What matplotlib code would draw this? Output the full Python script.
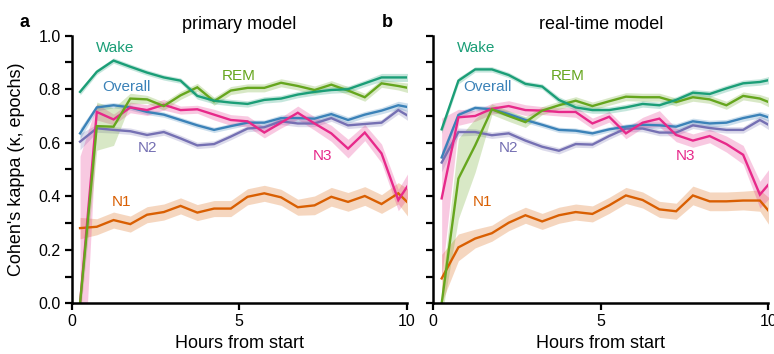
import matplotlib
matplotlib.use("Agg")
import matplotlib.pyplot as plt
from matplotlib.ticker import MultipleLocator, FormatStrFormatter

plt.rcParams['font.family'] = ['Liberation Sans', 'DejaVu Sans']

# Time bins (hours from start, bin centres)
hours = [0.25, 0.75, 1.25, 1.75, 2.25, 2.75, 3.25, 3.75, 4.25, 4.75, 5.25,
         5.75, 6.25, 6.75, 7.25, 7.75, 8.25, 8.75, 9.25, 9.75, 10.25]

stages = ["Wake", "Overall", "N2", "N3", "REM", "N1"]

# Primary model: mean kappa per bin
wake_a = [0.79, 0.865, 0.907, 0.884, 0.862, 0.844, 0.832, 0.775, 0.757, 0.75, 0.745,
          0.76, 0.765, 0.78, 0.79, 0.797, 0.80, 0.822, 0.844, 0.844, 0.844]
overall_a = [0.635, 0.732, 0.74, 0.732, 0.715, 0.705, 0.685, 0.665, 0.648, 0.662, 0.675,
             0.675, 0.692, 0.692, 0.69, 0.707, 0.685, 0.705, 0.72, 0.74, 0.728]
n2_a = [0.604, 0.654, 0.648, 0.643, 0.629, 0.64, 0.616, 0.59, 0.595, 0.623, 0.653,
        0.658, 0.68, 0.672, 0.672, 0.692, 0.665, 0.67, 0.675, 0.722, 0.685]
n3_a = [0.0, 0.715, 0.687, 0.732, 0.722, 0.742, 0.722, 0.725, 0.705, 0.685, 0.68,
        0.638, 0.675, 0.712, 0.672, 0.635, 0.578, 0.638, 0.56, 0.386, 0.48]
rem_a = [0.0, 0.662, 0.66, 0.765, 0.762, 0.737, 0.777, 0.807, 0.755, 0.795, 0.805,
         0.805, 0.824, 0.812, 0.797, 0.817, 0.795, 0.77, 0.822, 0.812, 0.80]
n1_a = [0.281, 0.286, 0.311, 0.296, 0.331, 0.341, 0.364, 0.339, 0.354, 0.354, 0.398,
        0.411, 0.396, 0.359, 0.366, 0.398, 0.379, 0.401, 0.371, 0.411, 0.35]

# Primary model: confidence half-widths
wake_a_ci = [0.012, 0.01, 0.01, 0.01, 0.01, 0.01, 0.01, 0.012, 0.012, 0.012, 0.012,
             0.012, 0.012, 0.012, 0.012, 0.012, 0.012, 0.012, 0.015, 0.015, 0.015]
overall_a_ci = [0.02, 0.012, 0.01, 0.01, 0.01, 0.01, 0.01, 0.01, 0.01, 0.01, 0.01,
                0.01, 0.012, 0.012, 0.012, 0.012, 0.012, 0.012, 0.012, 0.015, 0.015]
n2_a_ci = [0.03, 0.015, 0.012, 0.012, 0.012, 0.012, 0.012, 0.012, 0.012, 0.012, 0.012,
           0.012, 0.012, 0.012, 0.012, 0.012, 0.012, 0.012, 0.012, 0.015, 0.02]
n3_a_ci = [0.55, 0.03, 0.02, 0.02, 0.02, 0.02, 0.015, 0.015, 0.02, 0.02, 0.02,
           0.02, 0.02, 0.025, 0.025, 0.03, 0.035, 0.03, 0.035, 0.04, 0.05]
rem_a_ci = [0.05, 0.09, 0.07, 0.02, 0.015, 0.015, 0.015, 0.015, 0.015, 0.015, 0.015,
            0.015, 0.015, 0.015, 0.015, 0.015, 0.015, 0.015, 0.015, 0.015, 0.02]
n1_a_ci = [0.04, 0.03, 0.03, 0.03, 0.03, 0.03, 0.03, 0.03, 0.03, 0.03, 0.03,
           0.03, 0.03, 0.03, 0.035, 0.035, 0.035, 0.035, 0.035, 0.04, 0.06]

# Real-time model: mean kappa per bin
wake_b = [0.65, 0.832, 0.874, 0.874, 0.853, 0.82, 0.81, 0.76, 0.732, 0.722, 0.722,
          0.732, 0.745, 0.74, 0.76, 0.787, 0.782, 0.803, 0.822, 0.827, 0.84]
overall_b = [0.545, 0.704, 0.73, 0.725, 0.707, 0.685, 0.667, 0.648, 0.645, 0.635, 0.65,
             0.66, 0.667, 0.665, 0.66, 0.68, 0.672, 0.675, 0.692, 0.705, 0.685]
n2_b = [0.526, 0.64, 0.64, 0.628, 0.635, 0.608, 0.585, 0.57, 0.595, 0.593, 0.625,
        0.653, 0.653, 0.638, 0.638, 0.665, 0.655, 0.648, 0.648, 0.685, 0.65]
n3_b = [0.392, 0.695, 0.70, 0.727, 0.737, 0.722, 0.72, 0.715, 0.715, 0.672, 0.697,
        0.635, 0.675, 0.69, 0.629, 0.608, 0.625, 0.595, 0.555, 0.406, 0.48]
rem_b = [0.0, 0.466, 0.59, 0.725, 0.70, 0.677, 0.72, 0.74, 0.757, 0.737, 0.755,
         0.772, 0.77, 0.77, 0.752, 0.77, 0.762, 0.74, 0.775, 0.765, 0.74]
n1_b = [0.093, 0.209, 0.242, 0.262, 0.301, 0.329, 0.306, 0.329, 0.341, 0.334, 0.366,
        0.403, 0.386, 0.351, 0.344, 0.403, 0.381, 0.381, 0.384, 0.384, 0.31]

# Real-time model: confidence half-widths
wake_b_ci = [0.015, 0.012, 0.01, 0.01, 0.01, 0.01, 0.01, 0.012, 0.012, 0.012, 0.012,
             0.012, 0.012, 0.012, 0.012, 0.012, 0.012, 0.012, 0.012, 0.012, 0.015]
overall_b_ci = [0.025, 0.012, 0.01, 0.01, 0.01, 0.01, 0.01, 0.01, 0.01, 0.01, 0.01,
                0.01, 0.012, 0.012, 0.012, 0.012, 0.012, 0.012, 0.012, 0.012, 0.015]
n2_b_ci = [0.035, 0.015, 0.012, 0.012, 0.012, 0.012, 0.012, 0.012, 0.012, 0.012, 0.012,
           0.012, 0.012, 0.012, 0.012, 0.012, 0.012, 0.012, 0.012, 0.015, 0.02]
n3_b_ci = [0.3, 0.03, 0.02, 0.02, 0.02, 0.02, 0.015, 0.015, 0.02, 0.02, 0.02,
           0.02, 0.02, 0.03, 0.025, 0.025, 0.025, 0.03, 0.035, 0.05, 0.06]
rem_b_ci = [0.05, 0.15, 0.1, 0.02, 0.02, 0.02, 0.015, 0.015, 0.015, 0.015, 0.015,
            0.015, 0.015, 0.015, 0.015, 0.015, 0.015, 0.015, 0.015, 0.015, 0.02]
n1_b_ci = [0.09, 0.05, 0.035, 0.03, 0.03, 0.03, 0.03, 0.03, 0.03, 0.03, 0.03,
           0.03, 0.03, 0.03, 0.03, 0.035, 0.035, 0.035, 0.035, 0.04, 0.06]

colors = {"Wake": "#1b9e77", "Overall": "#3b82b8", "N2": "#7570b3",
          "N3": "#e7298a", "REM": "#66a61e", "N1": "#d95f02"}

# (x, y) positions of the in-plot stage labels, in data units
label_pos_a = {"Wake": (1.3, 0.955), "Overall": (1.62, 0.81), "REM": (5.0, 0.85),
               "N2": (2.25, 0.58), "N3": (7.5, 0.55), "N1": (1.5, 0.38)}
label_pos_b = {"Wake": (1.27, 0.955), "Overall": (1.62, 0.81), "REM": (4.0, 0.85),
               "N2": (2.26, 0.58), "N3": (7.52, 0.55), "N1": (1.48, 0.38)}

panels = [
    ("a", "primary model",
     {"Wake": (wake_a, wake_a_ci), "Overall": (overall_a, overall_a_ci),
      "N2": (n2_a, n2_a_ci), "N3": (n3_a, n3_a_ci),
      "REM": (rem_a, rem_a_ci), "N1": (n1_a, n1_a_ci)}, label_pos_a),
    ("b", "real-time model",
     {"Wake": (wake_b, wake_b_ci), "Overall": (overall_b, overall_b_ci),
      "N2": (n2_b, n2_b_ci), "N3": (n3_b, n3_b_ci),
      "REM": (rem_b, rem_b_ci), "N1": (n1_b, n1_b_ci)}, label_pos_b),
]

fig = plt.figure(figsize=(7.74, 3.54), dpi=100)
ax_rects = [[0.0926, 0.1432, 0.4328, 0.756], [0.5598, 0.1432, 0.4328, 0.756]]
draw_order = ["N1", "N2", "Overall", "N3", "REM", "Wake"]

for i, (letter, title, data, lpos) in enumerate(panels):
    ax = fig.add_axes(ax_rects[i])
    for st in draw_order:
        mean, hw = data[st]
        lo = [m - h for m, h in zip(mean, hw)]
        hi = [m + h for m, h in zip(mean, hw)]
        ax.fill_between(hours, lo, hi, color=colors[st], alpha=0.25, lw=0)
        ax.plot(hours, mean, color=colors[st], lw=1.7, solid_joinstyle="miter")
    for st in stages:
        x, y = lpos[st]
        ax.text(x, y, st, color=colors[st], fontsize=11, ha="center", va="center")

    ax.set_xlim(0, 10)
    ax.set_ylim(0, 1.0)
    ax.set_xticks([0, 5, 10])
    ax.yaxis.set_major_locator(MultipleLocator(0.2))
    ax.yaxis.set_minor_locator(MultipleLocator(0.1))
    ax.yaxis.set_major_formatter(FormatStrFormatter("%.1f"))
    ax.tick_params(axis="both", which="both", direction="out", width=1.6,
                   length=5, labelsize=11.5, colors="black", pad=3)
    for side in ("top", "right"):
        ax.spines[side].set_visible(False)
    for side in ("left", "bottom"):
        ax.spines[side].set_linewidth(1.8)
    ax.set_xlabel("Hours from start", fontsize=13, labelpad=4)
    ax.set_title(title, fontsize=13, pad=5)
    if i == 0:
        ax.set_ylabel("Cohen's kappa (κ, epochs)", fontsize=13)
        ax.yaxis.set_label_coords(-0.138, 0.5)
    else:
        ax.tick_params(axis="y", labelleft=False)
    fig.text(ax_rects[i][0] - 0.067, 0.937, letter, fontsize=13,
             fontweight="bold", ha="left", va="center")

fig.savefig("out.png", dpi=100)
